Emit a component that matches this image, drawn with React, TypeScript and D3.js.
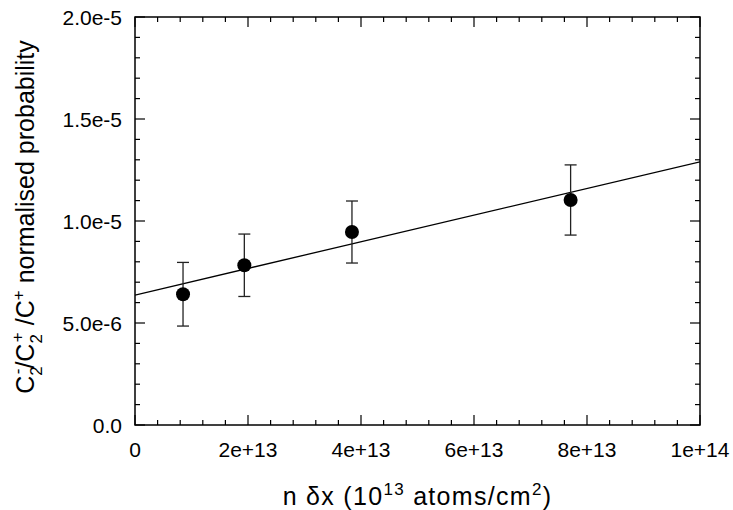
import React from "react";
import * as d3 from "d3";

const xValues = [0.85e13, 1.935e13, 3.84e13, 7.71e13];
const yValues = [6.41e-6, 7.83e-6, 9.46e-6, 1.103e-5];
const yErrors = [1.56e-6, 1.53e-6, 1.52e-6, 1.72e-6];
const fitX = [0, 1e14];
const fitY = [6.37e-6, 1.29e-5];
const xTickValues = [0, 2e13, 4e13, 6e13, 8e13, 1e14];
const xTickLabels = ["0", "2e+13", "4e+13", "6e+13", "8e+13", "1e+14"];
const yTickValues = [0, 5e-6, 1e-5, 1.5e-5, 2e-5];
const yTickLabels = ["0.0", "5.0e-6", "1.0e-5", "1.5e-5", "2.0e-5"];

const W = 733, H = 510;
const L = 135, R = 700, T = 17, B = 425;
const FONT = "'Liberation Sans', Arial, sans-serif";

export default function App() {
  const x = d3.scaleLinear().domain([0, 1e14]).range([L, R]);
  const y = d3.scaleLinear().domain([0, 2e-5]).range([B, T]);
  const xMinor = d3.range(0, 25 + 1).map((i) => i * 0.4e13);
  const yMinor = d3.range(0, 20 + 1).map((i) => i * 1e-6);
  const line = d3.line<number>().x((d, i) => x(fitX[i])).y((d, i) => y(fitY[i]));
  const stroke = "#000";
  return (
    <svg width={W} height={H} style={{ position: "absolute", left: 0, top: 0, background: "#fff" }} fontFamily={FONT}>
      <rect x={0} y={0} width={W} height={H} fill="#fff" />
      {xMinor.map((v, i) => {
        const major = i % 5 === 0;
        const len = major ? 10 : 5;
        return (
          <g key={"xm" + i}>
            <line x1={x(v)} x2={x(v)} y1={B} y2={B - len} stroke={stroke} strokeWidth={1.2} />
            <line x1={x(v)} x2={x(v)} y1={T} y2={T + len} stroke={stroke} strokeWidth={1.2} />
          </g>
        );
      })}
      {yMinor.map((v, i) => {
        const major = i % 5 === 0;
        const len = major ? 10 : 5;
        return (
          <g key={"ym" + i}>
            <line x1={L} x2={L + len} y1={y(v)} y2={y(v)} stroke={stroke} strokeWidth={1.2} />
            <line x1={R} x2={R - len} y1={y(v)} y2={y(v)} stroke={stroke} strokeWidth={1.2} />
          </g>
        );
      })}
      <rect x={L} y={T} width={R - L} height={B - T} fill="none" stroke={stroke} strokeWidth={1.5} />
      {xTickValues.map((v, i) => (
        <text key={"xt" + i} x={x(v)} y={B + 32} fontSize={21} textAnchor="middle" fill="#000">
          {xTickLabels[i]}
        </text>
      ))}
      {yTickValues.map((v, i) => (
        <text key={"yt" + i} x={L - 13} y={y(v) + 7.5} fontSize={21} textAnchor="end" fill="#000">
          {yTickLabels[i]}
        </text>
      ))}
      <defs>
        <clipPath id="plotclip">
          <rect x={L} y={T} width={R - L} height={B - T} />
        </clipPath>
      </defs>
      <path d={line(fitY) || ""} fill="none" stroke={stroke} strokeWidth={1.3} clipPath="url(#plotclip)" />
      {xValues.map((v, i) => {
        const cx = x(v);
        const yt = y(yValues[i] + yErrors[i]);
        const yb = y(yValues[i] - yErrors[i]);
        return (
          <g key={"p" + i}>
            <line x1={cx} x2={cx} y1={yt} y2={yb} stroke="#222" strokeWidth={1.3} />
            <line x1={cx - 6} x2={cx + 6} y1={yt} y2={yt} stroke="#222" strokeWidth={1.3} />
            <line x1={cx - 6} x2={cx + 6} y1={yb} y2={yb} stroke="#222" strokeWidth={1.3} />
            <circle cx={cx} cy={y(yValues[i])} r={7} fill="#000" />
          </g>
        );
      })}
      <text x={(L + R) / 2} y={505} fontSize={25} textAnchor="middle" fill="#000" letterSpacing={1.3}>
        n δx (10<tspan dy={-10} fontSize={17}>13</tspan>
        <tspan dy={10}> atoms/cm</tspan>
        <tspan dy={-10} fontSize={17}>2</tspan>
        <tspan dy={10}>)</tspan>
      </text>
      <text transform={`translate(34, 217) rotate(-90)`} fontSize={25} textAnchor="middle" fill="#000">
        C<tspan dy={8} fontSize={17}>2</tspan>
        <tspan dy={-19} fontSize={17} dx={-8}>-</tspan>
        <tspan dy={11}>/C</tspan>
        <tspan dy={8} fontSize={17}>2</tspan>
        <tspan dy={-19} fontSize={17} dx={-8}>+</tspan>
        <tspan dy={11}> /C</tspan>
        <tspan dy={-10} fontSize={17}>+</tspan>
        <tspan dy={10}> normalised probability</tspan>
      </text>
    </svg>
  );
}
